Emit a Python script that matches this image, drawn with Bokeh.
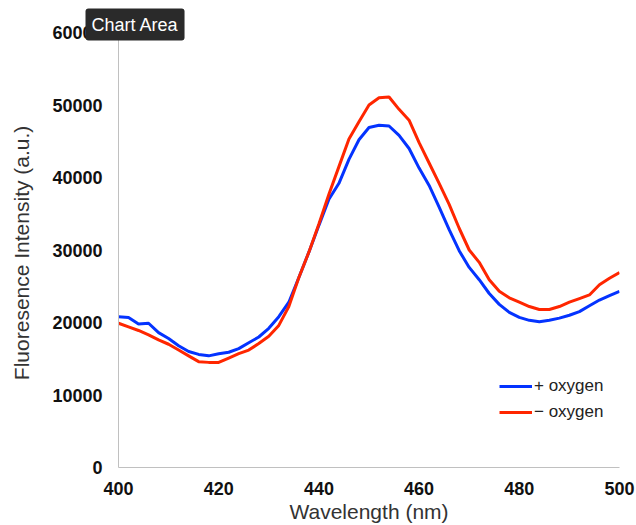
from bokeh.plotting import figure
from bokeh.models import Range1d, Legend, LegendItem, FixedTicker
from bokeh.embed import file_html
from bokeh.resources import INLINE

wavelength = list(range(400, 501, 2))
plus_oxygen = [20800, 20700, 19800, 19900, 18600, 17800, 16800, 16000, 15600, 15400,
               15700, 15900, 16400, 17200, 18000, 19200, 20800, 22800, 26200, 29700,
               33400, 37000, 39200, 42500, 45200, 46900, 47200, 47100, 45800, 44000,
               41300, 38900, 35900, 32800, 29900, 27600, 25900, 24000, 22500, 21400,
               20700, 20300, 20100, 20300, 20600, 21000, 21500, 22300, 23100, 23700,
               24300]
minus_oxygen = [19900, 19400, 18900, 18300, 17600, 17000, 16200, 15400, 14600, 14500,
                14500, 15100, 15700, 16200, 17100, 18100, 19600, 22200, 26200, 29700,
                33600, 37700, 41500, 45300, 47700, 50000, 51000, 51100, 49400, 47900,
                44800, 42000, 39200, 36300, 33000, 30000, 28300, 25900, 24300, 23400,
                22800, 22200, 21800, 21800, 22200, 22800, 23300, 23800, 25200, 26100,
                26900]
x_ticks = [400, 420, 440, 460, 480, 500]
y_ticks = [0, 10000, 20000, 30000, 40000, 50000, 60000]
series_names = ["+ oxygen", "\u2212 oxygen"]

p = figure(width=636, height=525, output_backend="svg", toolbar_location=None,
           x_range=Range1d(400, 500), y_range=Range1d(0, 60000),
           min_border_left=118, min_border_right=17, min_border_top=32,
           min_border_bottom=57)
p.outline_line_color = None
p.xgrid.visible = False
p.ygrid.visible = False
p.background_fill_color = "white"
p.border_fill_color = "white"

for ax, ticks in ((p.xaxis, x_ticks), (p.yaxis, y_ticks)):
    ax.ticker = FixedTicker(ticks=ticks)
    ax.axis_line_color = "#c0c0c0"
    ax.axis_line_width = 1
    ax.major_tick_line_color = None
    ax.minor_tick_line_color = None
    ax.major_label_text_font = "Liberation Sans"
    ax.major_label_text_font_style = "bold"
    ax.major_label_text_font_size = "18px"
    ax.major_label_text_color = "#111111"
    ax.axis_label_text_font = "Liberation Sans"
    ax.axis_label_text_font_style = "normal"
    ax.axis_label_text_font_size = "21px"
    ax.axis_label_text_color = "#333333"

p.xaxis.major_label_standoff = 8
p.yaxis.major_label_standoff = 10
p.xaxis.axis_label = "Wavelength (nm)"
p.yaxis.axis_label = "Fluoresence Intensity  (a.u.)"
p.xaxis.axis_label_standoff = 2
p.yaxis.axis_label_standoff = 16

r1 = p.line(wavelength, plus_oxygen, line_color="#0433FF", line_width=3)
r2 = p.line(wavelength, minus_oxygen, line_color="#FF2600", line_width=3)

legend = Legend(items=[LegendItem(label=series_names[0], renderers=[r1]),
                       LegendItem(label=series_names[1], renderers=[r2])],
                location=(381, 45), padding=5, spacing=6, glyph_width=33,
                label_text_font="Liberation Sans", label_text_font_size="17px",
                label_text_color="#222222", label_standoff=2,
                border_line_color=None, background_fill_alpha=0)
p.add_layout(legend, "center")

# the "Chart Area" tooltip box
p.title.text = "Chart Area"
p.title.text_color = "white"
p.title.text_font = "Liberation Sans"
p.title.text_font_size = "18px"
p.title.text_font_style = "normal"
p.title.background_fill_color = "#2a2a2a"
p.title.background_fill_alpha = 1.0
p.title.padding = 6
p.title.border_radius = 3
p.title.align = "left"
p.title.offset = -33
p.title.standoff = -16

open("out.html", "w").write(file_html(p, INLINE))
